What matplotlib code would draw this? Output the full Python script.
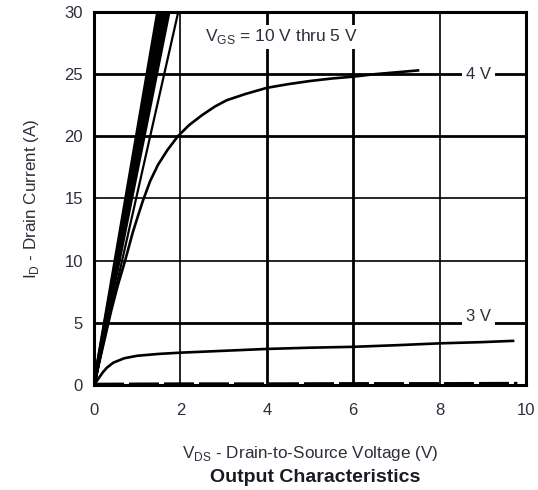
import matplotlib.pyplot as plt

plt.rcParams['font.family'] = ['Liberation Sans', 'DejaVu Sans']

TXT = '#2e2e3a'

# VGS = 10 V .. 5 V: nearly straight lines, V_DS where each hits 30 A
bundle_vgs = [10, 9, 8, 7, 6]
bundle_vds_at_30 = [1.48, 1.54, 1.60, 1.66, 1.73]
vgs5_vds = [0, 1.95]
vgs5_id = [0, 30]

# VGS = 4 V
vgs4_vds = [0, 0.1, 0.2, 0.3, 0.4, 0.55, 0.72, 0.9, 1.0, 1.13, 1.3, 1.48, 1.7, 1.94,
            2.2, 2.5, 2.8, 3.07, 3.5, 4, 4.5, 5, 5.5, 6, 6.5, 7, 7.5]
vgs4_id = [0, 1.5, 3.0, 4.5, 6.0, 8.0, 10.0, 12.3, 13.4, 14.8, 16.4, 17.7, 18.9, 20.0,
           20.9, 21.7, 22.4, 22.9, 23.4, 23.9, 24.2, 24.45, 24.65, 24.8, 25.0, 25.15, 25.3]

# VGS = 3 V
vgs3_vds = [0, 0.05, 0.1, 0.15, 0.2, 0.3, 0.45, 0.7, 1.0, 1.5, 2, 3, 4, 5, 6, 7, 8, 9, 9.7]
vgs3_id = [0, 0.25, 0.5, 0.75, 1.0, 1.4, 1.8, 2.15, 2.35, 2.5, 2.6, 2.75, 2.9, 3.0, 3.07,
           3.2, 3.35, 3.45, 3.55]

# VGS = 2 V (practically off)
vgs2_vds = [0, 2, 4, 6, 8, 9.8]
vgs2_id = [0.05, 0.08, 0.08, 0.1, 0.1, 0.12]

x_ticks = [0, 2, 4, 6, 8, 10]
y_ticks = [0, 5, 10, 15, 20, 25, 30]

fig = plt.figure(figsize=(5.38, 4.9), dpi=100)
ax = fig.add_axes([0.1747, 0.2143, 0.8030, 0.7612])
ax.set_xlim(0, 10)
ax.set_ylim(0, 30)

# grid: some lines heavier than others
heavy_x = [4, 6]
heavy_y = [5, 20, 25]
for v in x_ticks[1:-1]:
    ax.axvline(v, color='black', lw=2.0 if v in heavy_x else 1.2, zorder=1)
for v in y_ticks[1:-1]:
    ax.axhline(v, color='black', lw=2.0 if v in heavy_y else 1.2, zorder=1)

for v in bundle_vds_at_30:
    ax.plot([0, v], [0, 30], color='black', lw=2.6, zorder=3, solid_capstyle='butt')
ax.plot(vgs5_vds, vgs5_id, color='black', lw=1.6, zorder=3)
ax.plot(vgs4_vds, vgs4_id, color='black', lw=1.9, zorder=3)
ax.plot(vgs3_vds, vgs3_id, color='black', lw=1.9, zorder=3)
ax.plot(vgs2_vds, vgs2_id, color='black', lw=2.4, zorder=3, dashes=(9, 1.5))

box = dict(facecolor='white', edgecolor='none', pad=2)
ax.text(4.35, 28.0, r'V$_{\mathregular{GS}}$ = 10 V thru 5 V', color=TXT, fontsize=12.5,
        ha='center', va='center', bbox=box, zorder=4)
ax.text(8.9, 25.0, '4 V', color=TXT, fontsize=12, ha='center', va='center',
        bbox=dict(facecolor='white', edgecolor='none', pad=3), zorder=4)
ax.text(8.9, 5.5, '3 V', color=TXT, fontsize=12, ha='center', va='center',
        bbox=dict(facecolor='white', edgecolor='none', pad=3), zorder=4)

ax.set_xticks(x_ticks)
ax.set_yticks(y_ticks)
ax.tick_params(length=0, labelsize=12, labelcolor=TXT)
ax.tick_params(axis='x', pad=13)
ax.tick_params(axis='y', pad=8)
for s in ax.spines.values():
    s.set_linewidth(2.2)

ax.set_ylabel(r'I$_{\mathregular{D}}$ - Drain Current (A)', color=TXT, fontsize=12.3, labelpad=17)
ax.set_xlabel(r'V$_{\mathregular{DS}}$ - Drain-to-Source Voltage (V)', color=TXT, fontsize=12.3,
              labelpad=19)
fig.text(0.585, 0.026, 'Output Characteristics', color='#1a1a22', fontsize=14,
         fontweight='bold', ha='center', va='center')

fig.savefig('out.png', dpi=100)
